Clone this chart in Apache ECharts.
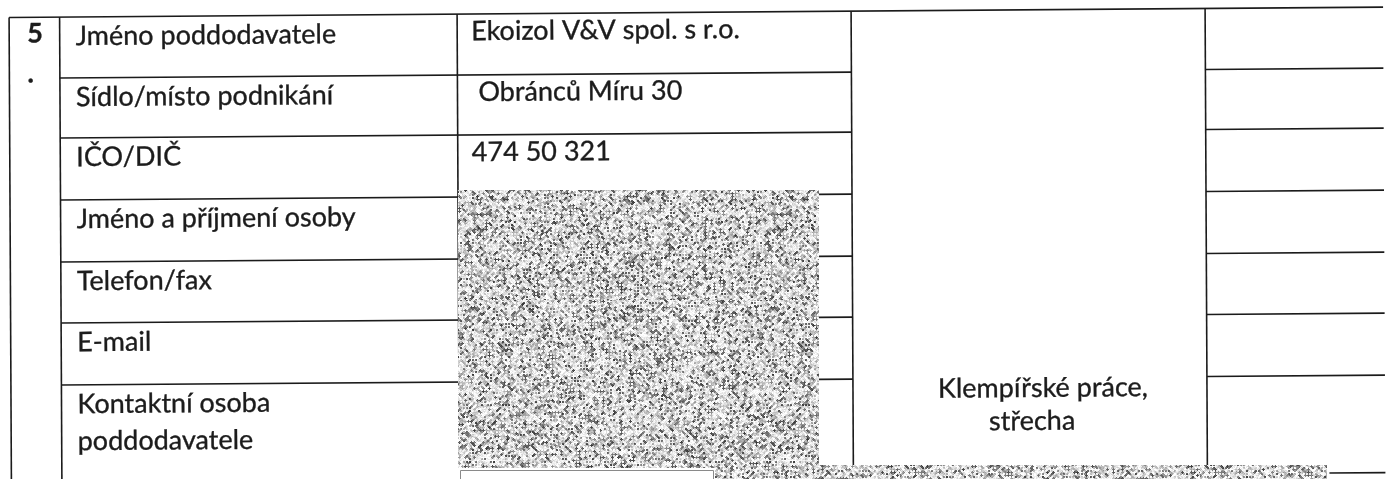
<!DOCTYPE html>
<html>
<head>
<meta charset="utf-8">
<script src="https://cdn.jsdelivr.net/npm/echarts@6.0.0/dist/echarts.min.js"></script>
<style>
html,body{margin:0;padding:0;background:#ffffff;}
#chart{width:1388px;height:479px;}
</style>
</head>
<body>
<div id="chart"></div>
<script>
// ---------------- data (table content) ----------------
const itemNumber = ['5', '.'];
const fieldLabels = [
  ['Jméno poddodavatele'],
  ['Sídlo/místo podnikání'],
  ['IČO/DIČ'],
  ['Jméno a příjmení osoby'],
  ['Telefon/fax'],
  ['E-mail'],
  ['Kontaktní osoba', 'poddodavatele']
];
const fieldValues = [
  ['Ekoizol V&V spol. s r.o.'],
  [' Obránců Míru 30'],
  ['474 50 321'],
  [], [], [], []
];
const workScope = ['Klempířské práce,', 'střecha'];

// ---------------- table structure (cell edges, in page units) ----------------
const colEdges = [9, 59.5, 457, 851, 1205, 1383];
const rowEdges = [17.5, 78.5, 138.5, 200.5, 262.5, 323.5, 385.5];
const redactedCells = [[458, 190, 819, 468], [715, 465, 1327, 479]];
const blankCells = [[460.5, 470.5, 713.5, 490]];

// ---------------- style / scan skew ----------------
const KH = 0.0075;   // horizontal rules fall slightly to the right
const KV = 0.005;    // vertical rules lean slightly
const FONT = 'Lato, "Open Sans", sans-serif';
const FS = 27;
const INK = '#1c1c1c';
const RULE = '#1b1b1b';

function skew(x, y) { return [x + KV * y, y - KH * x]; }

// rule segments built from the structure
const segments = [];
segments.push([colEdges[0], rowEdges[0], colEdges[5], rowEdges[0]]);
for (let r = 1; r < rowEdges.length; r++) {
  segments.push([colEdges[1], rowEdges[r], colEdges[3], rowEdges[r]]);
  segments.push([colEdges[4], rowEdges[r], colEdges[5], rowEdges[r]]);
}
segments.push([colEdges[0], rowEdges[0], colEdges[0], 490]);
segments.push([colEdges[1], rowEdges[0], colEdges[1], 490]);
segments.push([colEdges[2], rowEdges[0], colEdges[2], 470]);
segments.push([colEdges[3], rowEdges[0], colEdges[3], 482]);
segments.push([colEdges[4], rowEdges[0], colEdges[4], 482]);
segments.push([1327, 483, colEdges[5], 483]);

// text items built from the content arrays (y = baseline)
const texts = [];
itemNumber.forEach((t, i) => texts.push({ x: colEdges[0] + 18, y: rowEdges[0] + 30 + i * 40, text: t, bold: true, align: 'left' }));
fieldLabels.forEach((lines, r) => lines.forEach((t, i) => texts.push({ x: colEdges[1] + 16, y: rowEdges[r] + 33 + i * 37, text: t, align: 'left' })));
fieldValues.forEach((lines, r) => lines.forEach((t, i) => texts.push({ x: colEdges[2] + 14, y: rowEdges[r] + 31 + i * 37, text: t, align: 'left' })));
workScope.forEach((t, i) => texts.push({ x: (colEdges[3] + colEdges[4]) / 2 + (i === 0 ? 13 : 2), y: rowEdges[6] + 24 + i * 33, text: t, align: 'center' }));

// scanned redaction texture (fixed, hash-based pattern tile)
function hash(i, j) {
  let n = Math.imul(i, 374761393) ^ Math.imul(j, 668265263) ^ 0x5bd1e995;
  n = Math.imul(n ^ (n >>> 15), 2246822519);
  n = Math.imul(n ^ (n >>> 13), 3266489917);
  n = n ^ (n >>> 16);
  return (n >>> 0) / 4294967296;
}
function makeNoiseTile() {
  const S = 300, c = document.createElement('canvas');
  c.width = S; c.height = S;
  const g = c.getContext('2d');
  const img = g.createImageData(S, S);
  for (let y = 0; y < S; y++) {
    for (let x = 0; x < S; x++) {
      const v = hash(Math.floor((x + y) / 3), Math.floor((y - x + 600) / 3) + 7);
      const w = hash(x + 3, y + 11);
      let gray;
      if (v < 0.22) gray = 70 + v * 360;
      else if (v < 0.48) gray = 165 + (v - 0.22) * 180;
      else gray = 222 + (v - 0.48) * 66;
      gray = Math.max(0, Math.min(255, gray + (w - 0.5) * 40));
      const k = (y * S + x) * 4;
      img.data[k] = img.data[k + 1] = img.data[k + 2] = gray;
      img.data[k + 3] = 255;
    }
  }
  g.putImageData(img, 0, 0);
  return c;
}
const noiseTile = makeNoiseTile();

const chart = echarts.init(document.getElementById('chart'), null, { renderer: 'canvas' });
chart.setOption({
  animation: false,
  backgroundColor: '#ffffff',
  grid: { left: 0, right: 0, top: 0, bottom: 0 },
  xAxis: { type: 'value', min: 0, max: 1388, show: false },
  yAxis: { type: 'value', min: 0, max: 479, inverse: true, show: false },
  series: [
    {
      type: 'custom', name: 'rules', z: 2,
      data: segments,
      renderItem: function (params, api) {
        const a = api.coord(skew(api.value(0), api.value(1)));
        const b = api.coord(skew(api.value(2), api.value(3)));
        return { type: 'line', shape: { x1: a[0], y1: a[1], x2: b[0], y2: b[1] },
                 style: { stroke: RULE, lineWidth: 1.6 } };
      }
    },
    {
      type: 'custom', name: 'text', z: 3,
      data: texts.map(t => [t.x, t.y]),
      renderItem: function (params, api) {
        const t = texts[params.dataIndex];
        const p = api.coord(skew(api.value(0), api.value(1)));
        return { type: 'text', x: p[0], y: p[1], rotation: KH,
                 style: { text: t.text, x: 0, y: 0, fill: INK,
                          stroke: INK, lineWidth: 0.35,
                          font: (t.bold ? 'bold ' : '') + FS + 'px ' + FONT,
                          align: t.align, verticalAlign: 'bottom' } };
      }
    },
    {
      type: 'custom', name: 'blank', z: 4,
      data: blankCells,
      renderItem: function (params, api) {
        const a = api.coord([api.value(0), api.value(1)]);
        const b = api.coord([api.value(2), api.value(3)]);
        return { type: 'rect', shape: { x: a[0], y: a[1], width: b[0] - a[0], height: b[1] - a[1] },
                 style: { fill: '#ffffff', stroke: '#8a8a8a', lineWidth: 1 } };
      }
    },
    {
      type: 'custom', name: 'redacted', z: 5,
      data: redactedCells,
      renderItem: function (params, api) {
        const a = api.coord([api.value(0), api.value(1)]);
        const b = api.coord([api.value(2), api.value(3)]);
        return { type: 'rect', shape: { x: a[0], y: a[1], width: b[0] - a[0], height: b[1] - a[1] },
                 style: { fill: { image: noiseTile, repeat: 'repeat' } } };
      }
    }
  ]
});
</script>
</body>
</html>
